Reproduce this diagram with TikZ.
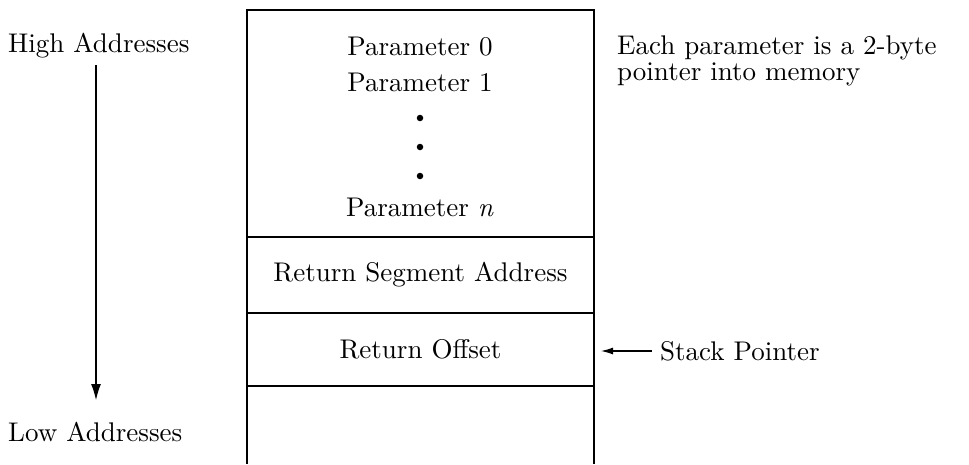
\documentclass[tikz,border=0pt]{standalone}
\usepackage{fontspec}
\setmainfont{lmroman10-regular}[Extension=.otf, ItalicFont=lmroman10-italic]
\usetikzlibrary{arrows.meta}
\begin{document}
\begin{tikzpicture}[x=1pt,y=-1pt,
  every node/.style={font=\fontsize{27}{30}\selectfont, inner sep=0pt},
  lbl/.style={anchor=base west},
  ctr/.style={anchor=base},
  cell/.style={draw, line width=1.1pt, outer sep=0pt, minimum width=347pt},
  dotmark/.style={circle, fill=black, minimum size=6.5pt, inner sep=0pt},
  line/.style={line width=1.1pt}]
\useasboundingbox (0,0) rectangle (969,464);
% cells
\node[cell, minimum height=227pt] (params) at (420.5,123.5) {};
\node[cell, minimum height=76pt] (rsa) at (420.5,275) {Return Segment Address};
\node[cell, minimum height=73pt] (ro) at (420.5,349.5) {Return Offset};
\draw[line] (ro.south west) -- (ro.south west |- 0,464);
\draw[line] (ro.south east) -- (ro.south east |- 0,464);
% parameter texts
\node[ctr] (p0) at (420,55) {Parameter 0};
\node[ctr] (p1) at (420,91) {Parameter 1};
\node[dotmark] (d1) at (420,118) {};
\node[dotmark] (d2) at (420,147) {};
\node[dotmark] (d3) at (420,176) {};
\node[ctr] (pn) at (420,216) {Parameter \textit{n}};
% left side
\node[lbl] (hi) at (8,52) {High Addresses};
\node[lbl] (lo) at (8,441) {Low Addresses};
\coordinate (at) at (96,65);
\coordinate (ab) at (96,400);
\draw[line, -{Latex[length=16pt,width=10pt]}] (at) -- (ab);
% right side
\node[lbl] (n1) at (617,54) {Each parameter is a 2-byte};
\node[lbl] (n2) at (617,80) {pointer into memory};
\node[lbl] (sp) at (660,360) {Stack Pointer};
\coordinate (spa) at (652,351);
\coordinate (spb) at (601,351);
\draw[line, -{Latex[length=12pt,width=7pt]}] (spa) -- (spb);
\end{tikzpicture}
\end{document}
